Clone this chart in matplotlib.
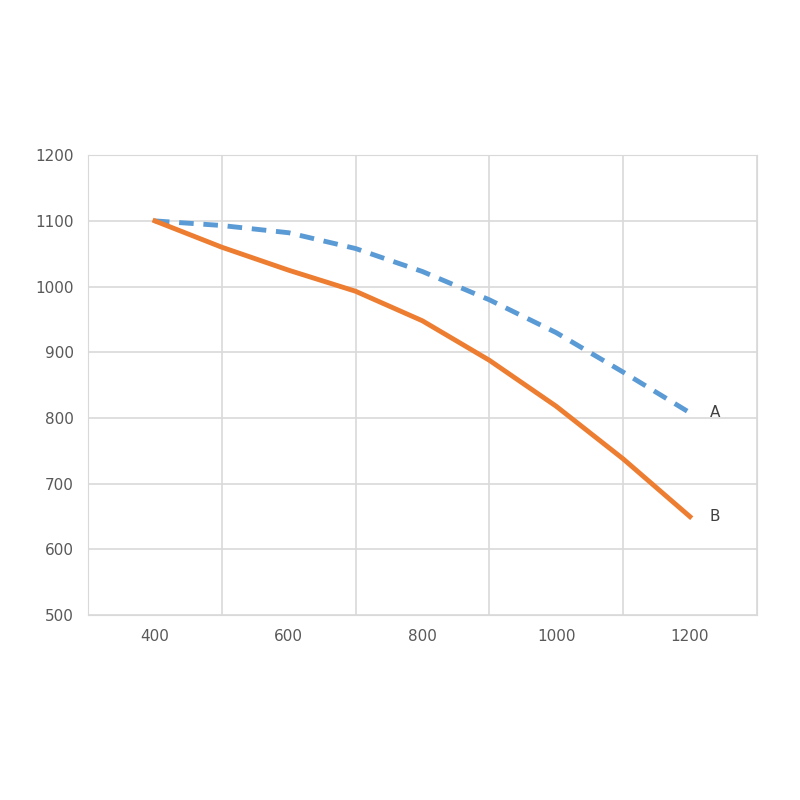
import matplotlib.pyplot as plt

x = [400, 500, 600, 700, 800, 900, 1000, 1100, 1200]
series_a = [1100, 1093, 1082, 1058, 1023, 980, 930, 870, 808]
series_b = [1100, 1060, 1025, 993, 948, 888, 818, 738, 650]
x_ticks = [400, 600, 800, 1000, 1200]
y_ticks = [500, 600, 700, 800, 900, 1000, 1100, 1200]

fig = plt.figure(figsize=(8, 8), dpi=100)
ax = fig.add_axes([0.11, 0.231, 0.836, 0.575])

ax.plot(x, series_a, color='#5b9bd5', lw=3.5, ls=(0, (3, 2)))
ax.plot(x, series_b, color='#ed7d31', lw=3.5)
ax.text(1230, series_a[-1], 'A', color='#404040', fontsize=11, va='center')
ax.text(1230, series_b[-1], 'B', color='#404040', fontsize=11, va='center')

ax.set_xlim(300, 1300)
ax.set_ylim(500, 1200)
ax.set_xticks(x_ticks)
ax.set_xticks(range(300, 1301, 200), minor=True)
ax.set_yticks(y_ticks)
ax.grid(False)
ax.grid(True, which='minor', axis='x', color='#d9d9d9', lw=1.2)
ax.grid(True, which='major', axis='y', color='#d9d9d9', lw=1.2)
ax.tick_params(which='both', length=0, labelsize=11, labelcolor='#595959', pad=10)
for s in ax.spines.values():
    s.set_color('#d9d9d9')

fig.savefig('out.png')
